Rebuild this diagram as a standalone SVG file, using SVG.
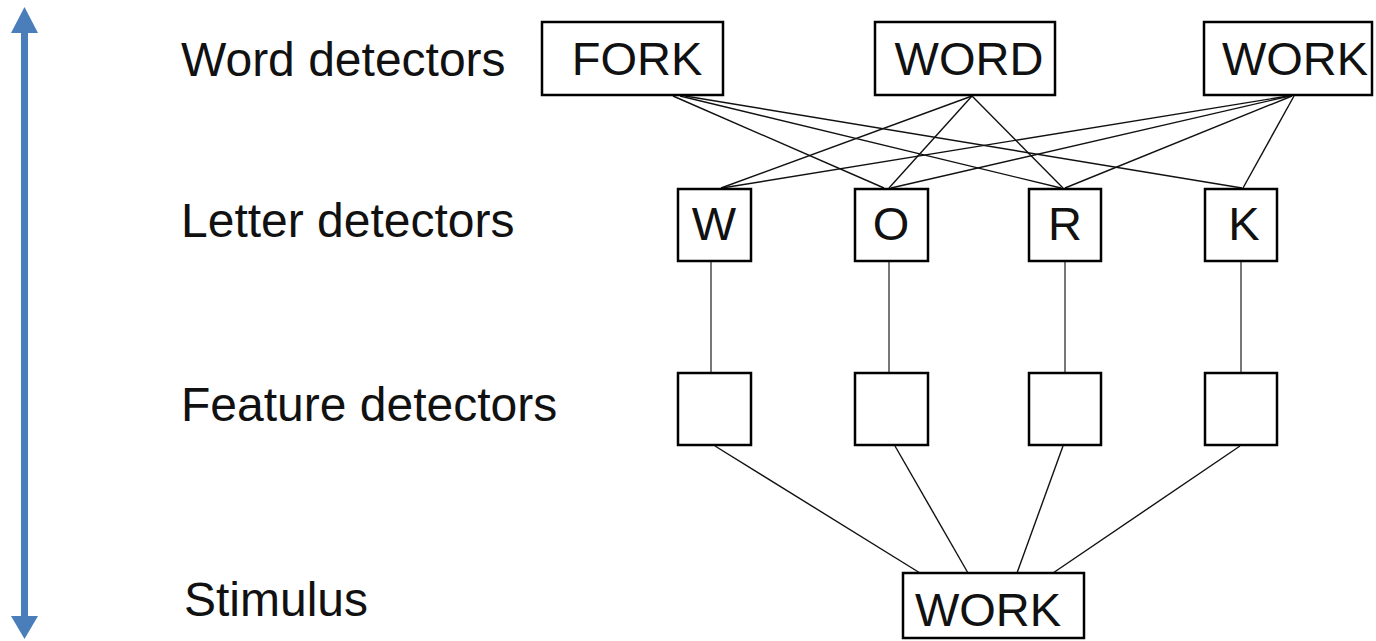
<svg xmlns="http://www.w3.org/2000/svg" width="1376" height="641" viewBox="0 0 1376 641">
<style>
.lbl{font-family:"Liberation Sans",Arial,sans-serif;font-size:48px;fill:#111}
.bx{fill:#fff;stroke:#000;stroke-width:2.5}
.bt{font-family:"Liberation Sans",Arial,sans-serif;font-size:47px;fill:#111;text-anchor:middle}
.ln{stroke:#111;stroke-width:1.4;fill:none}
.vl{stroke:#555;stroke-width:1.6;fill:none}
</style>
<rect width="1376" height="641" fill="#fff"/>
<g id="axis">
<line x1="24.5" y1="30" x2="24.5" y2="619" stroke="#4a7ebb" stroke-width="7"/>
<polygon points="24.5,7 11,33 38,33" fill="#4a7ebb"/>
<polygon points="24.5,639 11,616 38,616" fill="#4a7ebb"/>
</g>
<g id="labels">
<text class="lbl" x="181" y="76">Word detectors</text>
<text class="lbl" x="181" y="237">Letter detectors</text>
<text class="lbl" x="181" y="421">Feature detectors</text>
<text class="lbl" x="184" y="616">Stimulus</text>
</g>
<g id="connectors">
<line class="ln" x1="673" y1="96" x2="884" y2="188"/>
<line class="ln" x1="680" y1="96" x2="1061" y2="188"/>
<line class="ln" x1="685" y1="96" x2="1242" y2="188"/>
<line class="ln" x1="972" y1="96" x2="721" y2="188"/>
<line class="ln" x1="972" y1="96" x2="889" y2="188"/>
<line class="ln" x1="972" y1="96" x2="1063" y2="188"/>
<line class="ln" x1="1288" y1="96" x2="722" y2="188"/>
<line class="ln" x1="1290" y1="96" x2="891" y2="188"/>
<line class="ln" x1="1292" y1="96" x2="1065" y2="188"/>
<line class="ln" x1="1294" y1="96" x2="1243" y2="188"/>
<line class="vl" x1="711" y1="261" x2="711" y2="373"/>
<line class="vl" x1="889" y1="261" x2="889" y2="373"/>
<line class="vl" x1="1065" y1="261" x2="1065" y2="373"/>
<line class="vl" x1="1241" y1="261" x2="1241" y2="373"/>
<line class="ln" x1="715" y1="446" x2="920" y2="573"/>
<line class="ln" x1="895" y1="446" x2="968" y2="573"/>
<line class="ln" x1="1063" y1="446" x2="1017" y2="573"/>
<line class="ln" x1="1240" y1="446" x2="1053" y2="573"/>
</g>
<g id="word-fork"><rect class="bx" x="542" y="22" width="181" height="73"/><text class="bt" x="637" y="75">FORK</text></g>
<g id="word-word"><rect class="bx" x="875" y="22" width="180" height="73"/><text class="bt" x="969" y="75">WORD</text></g>
<g id="word-work"><rect class="bx" x="1204" y="22" width="168" height="73"/><text class="bt" x="1295" y="75">WORK</text></g>
<g id="letter-w"><rect class="bx" x="678" y="189" width="73" height="72"/><text class="bt" x="714" y="240">W</text></g>
<g id="letter-o"><rect class="bx" x="855" y="189" width="73" height="72"/><text class="bt" x="891" y="240">O</text></g>
<g id="letter-r"><rect class="bx" x="1029" y="189" width="72" height="72"/><text class="bt" x="1065" y="240">R</text></g>
<g id="letter-k"><rect class="bx" x="1205" y="189" width="72" height="72"/><text class="bt" x="1244" y="240">K</text></g>
<g id="feature-1"><rect class="bx" x="678" y="373" width="73" height="72"/></g>
<g id="feature-2"><rect class="bx" x="855" y="373" width="73" height="72"/></g>
<g id="feature-3"><rect class="bx" x="1029" y="373" width="72" height="72"/></g>
<g id="feature-4"><rect class="bx" x="1205" y="373" width="72" height="72"/></g>
<g id="stimulus"><rect class="bx" x="903" y="573" width="181" height="65"/><text class="bt" x="988" y="626">WORK</text></g>
</svg>
